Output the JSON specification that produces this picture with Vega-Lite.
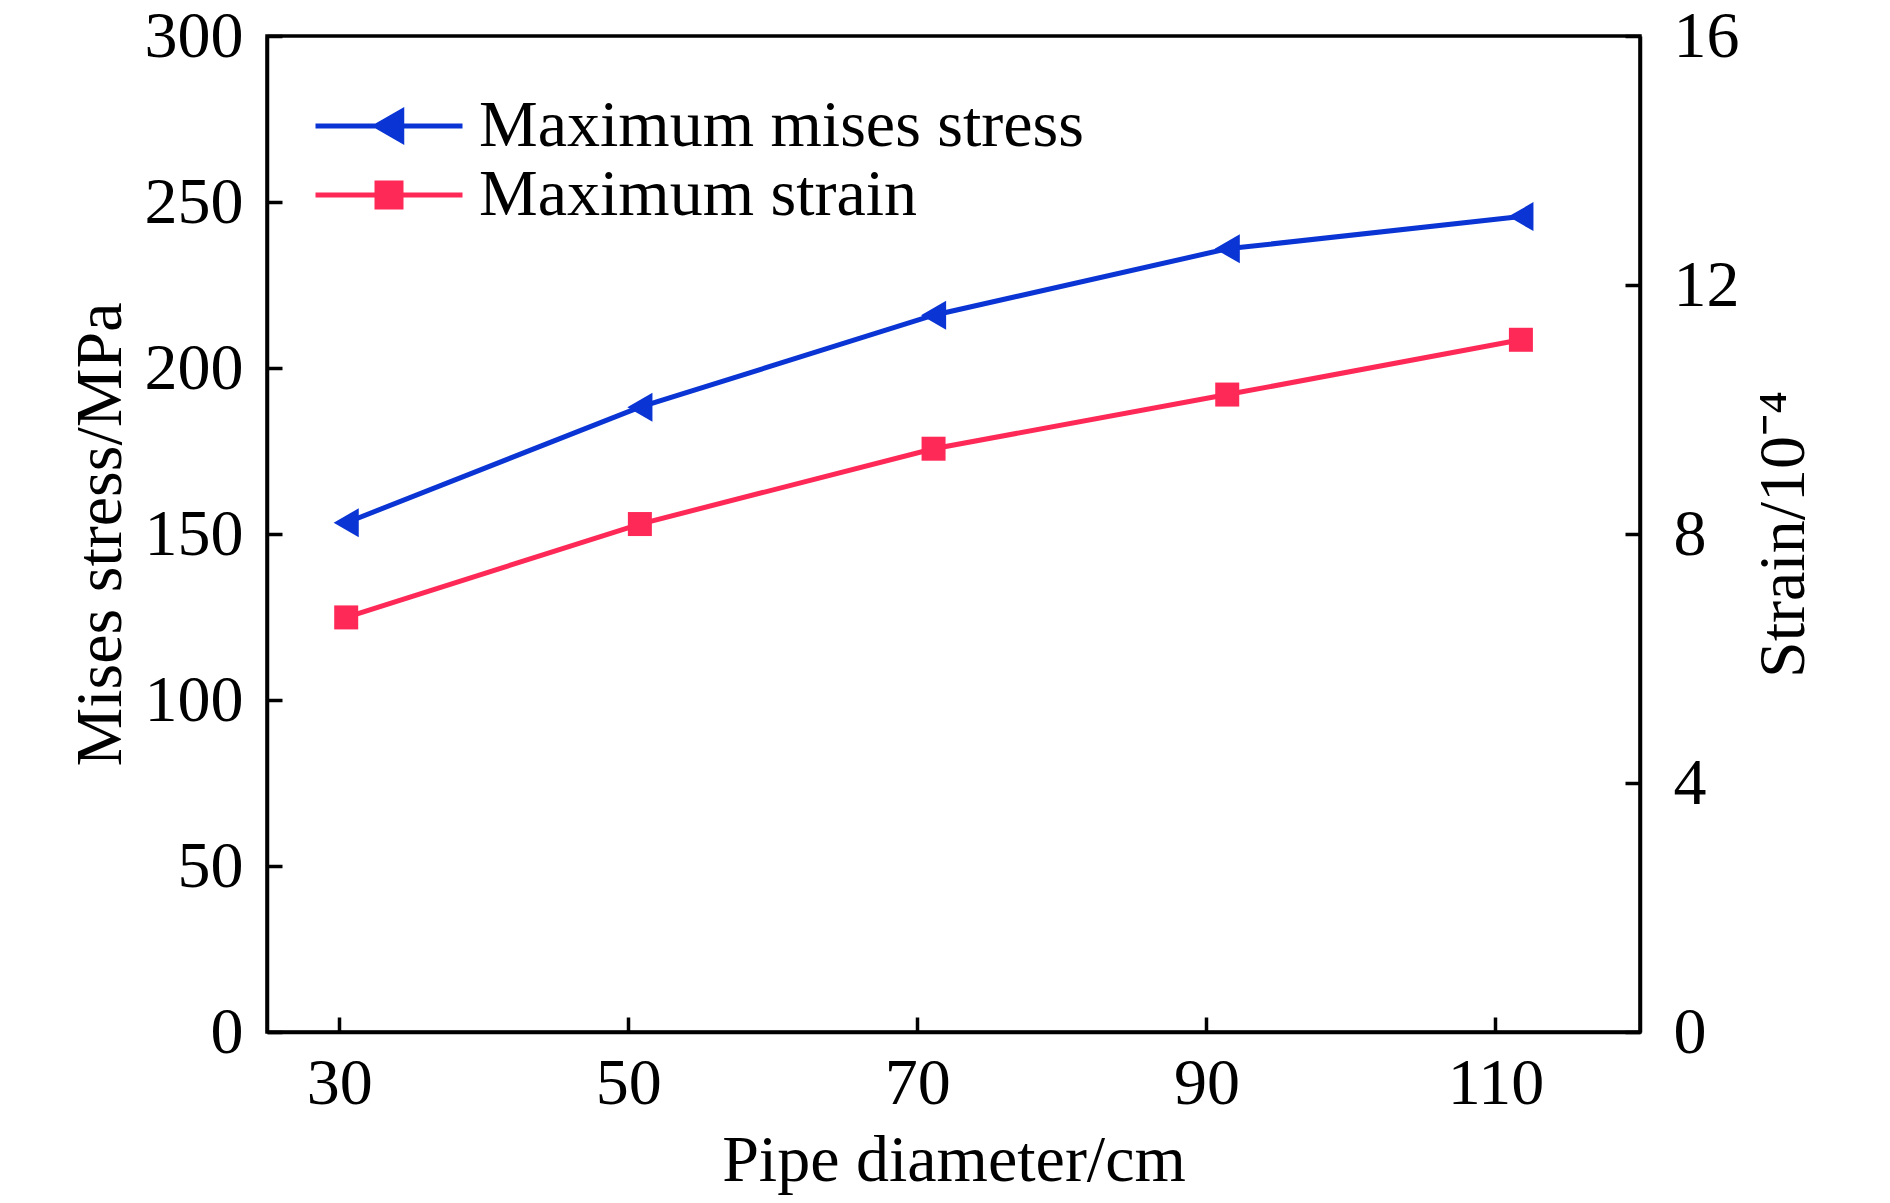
{
  "$schema": "https://vega.github.io/schema/vega-lite/v6.json",
  "width": 1373,
  "height": 996,
  "autosize": {"type": "none"},
  "padding": {"left": 267, "top": 36, "right": 250, "bottom": 171},
  "background": "white",
  "data": {
    "values": [
      {"diameter": 30.48, "series": "Maximum mises stress", "value": 153.4},
      {"diameter": 50.8, "series": "Maximum mises stress", "value": 188.2},
      {"diameter": 71.12, "series": "Maximum mises stress", "value": 215.9},
      {"diameter": 91.44, "series": "Maximum mises stress", "value": 235.9},
      {"diameter": 111.76, "series": "Maximum mises stress", "value": 245.6},
      {"diameter": 30.48, "series": "Maximum strain", "value": 6.66},
      {"diameter": 50.8, "series": "Maximum strain", "value": 8.16},
      {"diameter": 71.12, "series": "Maximum strain", "value": 9.37},
      {"diameter": 91.44, "series": "Maximum strain", "value": 10.24},
      {"diameter": 111.76, "series": "Maximum strain", "value": 11.12}
    ]
  },
  "encoding": {
    "x": {
      "field": "diameter",
      "type": "quantitative",
      "title": "Pipe diameter/cm",
      "scale": {"domain": [25, 120], "nice": false, "zero": false},
      "axis": {"values": [30, 50, 70, 90, 110], "labelPadding": 34, "titlePadding": 12}
    },
    "color": {
      "field": "series",
      "type": "nominal",
      "scale": {"domain": ["Maximum mises stress", "Maximum strain"], "range": ["#0A35D4", "#FF2957"]},
      "legend": {
        "title": null,
        "orient": "none",
        "legendX": 89,
        "legendY": 57,
        "padding": 0,
        "symbolSize": 900,
        "symbolStrokeWidth": 5,
        "labelFont": "Liberation Serif",
        "labelFontSize": 66,
        "labelColor": "black",
        "labelLimit": 1000,
        "labelOffset": 57,
        "rowPadding": 3,
        "encode": {
          "symbols": {
            "update": {
              "shape": {"signal": "datum.value == 'Maximum mises stress' ? 'M-4.9,0L4.9,0M-0.85,0L0.85,-0.98L0.85,0.98Z' : 'M-4.9,0L4.9,0M-0.8,-0.8L0.8,-0.8L0.8,0.8L-0.8,0.8Z'"},
              "fill": {"signal": "datum.value == 'Maximum mises stress' ? '#0A35D4' : '#FF2957'"},
              "stroke": {"signal": "datum.value == 'Maximum mises stress' ? '#0A35D4' : '#FF2957'"},
              "strokeWidth": {"value": 5},
              "opacity": {"value": 1}
            }
          }
        }
      }
    }
  },
  "layer": [
    {
      "transform": [{"filter": "datum.series == 'Maximum mises stress'"}],
      "encoding": {
        "y": {
          "field": "value",
          "type": "quantitative",
          "title": "Mises stress/MPa",
          "scale": {"domain": [0, 300], "nice": false},
          "axis": {"orient": "left", "values": [0, 50, 100, 150, 200, 250, 300], "labelPadding": 39, "titlePadding": 10}
        }
      },
      "layer": [
        {"mark": {"type": "line", "strokeWidth": 5}},
        {"mark": {"type": "point", "shape": "triangle-left", "filled": true, "size": 841, "opacity": 1}}
      ]
    },
    {
      "transform": [{"filter": "datum.series == 'Maximum strain'"}],
      "encoding": {
        "y": {
          "field": "value",
          "type": "quantitative",
          "title": "Strain/10⁻⁴",
          "scale": {"domain": [0, 16], "nice": false},
          "axis": {"orient": "right", "values": [0, 4, 8, 12, 16], "labelPadding": 48, "titleAngle": -90, "titleBaseline": "top", "titlePadding": 12}
        }
      },
      "layer": [
        {"mark": {"type": "line", "strokeWidth": 5}},
        {"mark": {"type": "point", "shape": "square", "filled": true, "size": 576, "opacity": 1}}
      ]
    }
  ],
  "resolve": {"scale": {"y": "independent"}},
  "config": {
    "view": {"stroke": "black", "strokeWidth": 3.5},
    "axis": {
      "grid": false,
      "domainColor": "black",
      "domainWidth": 3.5,
      "tickColor": "black",
      "tickWidth": 3.5,
      "tickSize": -15,
      "labelFont": "Liberation Serif",
      "labelFontSize": 66,
      "labelColor": "black",
      "titleFont": "Liberation Serif",
      "titleFontSize": 66,
      "titleFontWeight": "normal",
      "titleColor": "black"
    }
  }
}
